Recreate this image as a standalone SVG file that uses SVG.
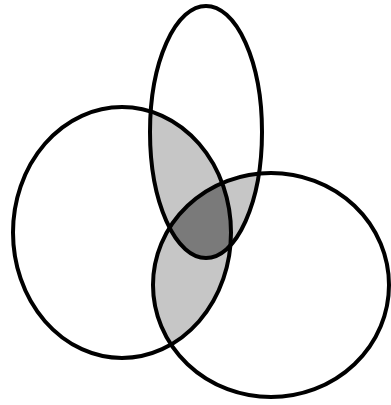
<svg xmlns="http://www.w3.org/2000/svg" width="391" height="405" viewBox="0 0 391 405">
  <style>
    .outline { fill: none; stroke: #000; stroke-width: 4; }
    .light { fill: #c6c6c6; }
    .dark { fill: #7a7a7a; }
  </style>
  <defs>
    <clipPath id="clipA"><ellipse cx="122" cy="232.5" rx="109" ry="125.5"/></clipPath>
    <clipPath id="clipB"><ellipse cx="206" cy="132" rx="56" ry="126"/></clipPath>
    <clipPath id="clipC"><ellipse cx="271" cy="285" rx="118" ry="112"/></clipPath>
  </defs>
  <rect width="391" height="405" fill="#fff"/>
  <g id="overlaps">
    <g clip-path="url(#clipA)">
      <ellipse class="light" cx="206" cy="132" rx="56" ry="126"/>
      <ellipse class="light" cx="271" cy="285" rx="118" ry="112"/>
    </g>
    <g clip-path="url(#clipB)">
      <ellipse class="light" cx="271" cy="285" rx="118" ry="112"/>
      <g clip-path="url(#clipA)">
        <ellipse class="dark" cx="271" cy="285" rx="118" ry="112"/>
      </g>
    </g>
  </g>
  <g id="set-left">
    <ellipse class="outline" cx="122" cy="232.5" rx="109" ry="125.5"/>
  </g>
  <g id="set-top">
    <ellipse class="outline" cx="206" cy="132" rx="56" ry="126"/>
  </g>
  <g id="set-right">
    <ellipse class="outline" cx="271" cy="285" rx="118" ry="112"/>
  </g>
</svg>
